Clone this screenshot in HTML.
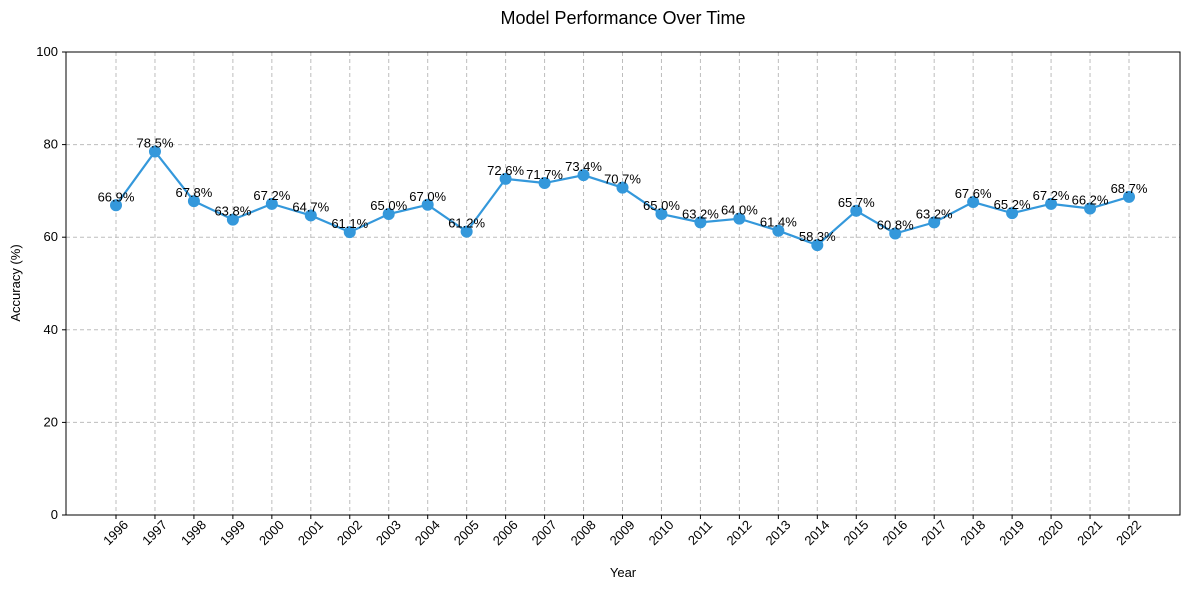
<!DOCTYPE html>
<html><head><meta charset="utf-8">
<style>
html,body{margin:0;padding:0;background:#fff;}
svg{display:block;font-family:"Liberation Sans","DejaVu Sans",sans-serif;}
</style></head>
<body>
<svg id="chart" width="1190" height="589" viewBox="0 0 1190 589">
<text x="623" y="24" text-anchor="middle" font-size="18" fill="#000">Model Performance Over Time</text>
<g id="grid"></g>
<g id="axes"></g>
<g id="series"></g>
<g id="labels"></g>
<text x="623" y="577" text-anchor="middle" font-size="13">Year</text>
<text x="20" y="283" text-anchor="middle" font-size="13" transform="rotate(-90 20 283)">Accuracy (%)</text>
</svg>
<script>
const years = [1996,1997,1998,1999,2000,2001,2002,2003,2004,2005,2006,2007,2008,2009,2010,2011,2012,2013,2014,2015,2016,2017,2018,2019,2020,2021,2022];
const accuracy = [66.9,78.5,67.8,63.8,67.2,64.7,61.1,65.0,67.0,61.2,72.6,71.7,73.4,70.7,65.0,63.2,64.0,61.4,58.3,65.7,60.8,63.2,67.6,65.2,67.2,66.2,68.7];
const yTicks = [0,20,40,60,80,100];

const NS = "http://www.w3.org/2000/svg";
const L=66,R=1180,T=52,B=515;
const x0=116,x1=1129;
function xs(i){return x0+(x1-x0)*i/(years.length-1);}
function ys(v){return B-(B-T)*v/100;}
function mk(tag,attrs,parent){const e=document.createElementNS(NS,tag);for(const k in attrs)e.setAttribute(k,attrs[k]);parent.appendChild(e);return e;}
const grid=document.getElementById('grid'),axes=document.getElementById('axes'),series=document.getElementById('series'),labels=document.getElementById('labels');

yTicks.forEach(v=>{
  const y=ys(v);
  if(v>0&&v<100){const g=mk('line',{x1:L,x2:R,y1:y,y2:y,stroke:'#bdbdbd','stroke-dasharray':'4,3','stroke-width':1},grid);
  
  }
  mk('line',{x1:L-4,x2:L,y1:y,y2:y,stroke:'#000'},axes);
  const t=mk('text',{x:L-8,y:y+4,'text-anchor':'end','font-size':13},axes);
  t.textContent=v;
  
  
});
years.forEach((yr,i)=>{
  const x=xs(i);
  const g=mk('line',{x1:x,x2:x,y1:T,y2:B,stroke:'#bdbdbd','stroke-dasharray':'4,3','stroke-width':1},grid);
  
  
  mk('line',{x1:x,x2:x,y1:B,y2:B+4,stroke:'#000'},axes);
  const cy=B+18;
  const t=mk('text',{x:x,y:cy+4,'text-anchor':'middle','font-size':13,transform:`rotate(-45 ${x} ${cy})`},axes);
  t.textContent=yr;
  
  
});
const frame=mk('rect',{x:L,y:T,width:R-L,height:B-T,fill:'none',stroke:'#000','stroke-width':1},axes);



const pts=accuracy.map((v,i)=>xs(i)+','+ys(v)).join(' ');
const line=mk('polyline',{points:pts,fill:'none',stroke:'#3498db','stroke-width':2.2},series);


accuracy.forEach((v,i)=>{
  const c=mk('circle',{cx:xs(i),cy:ys(v),r:6,fill:'#3498db'},series);
  
  
  const t=mk('text',{x:xs(i),y:ys(v)-4,'text-anchor':'middle','font-size':13},labels);
  t.textContent=v.toFixed(1)+'%';
  
  
});
</script>
</body></html>
